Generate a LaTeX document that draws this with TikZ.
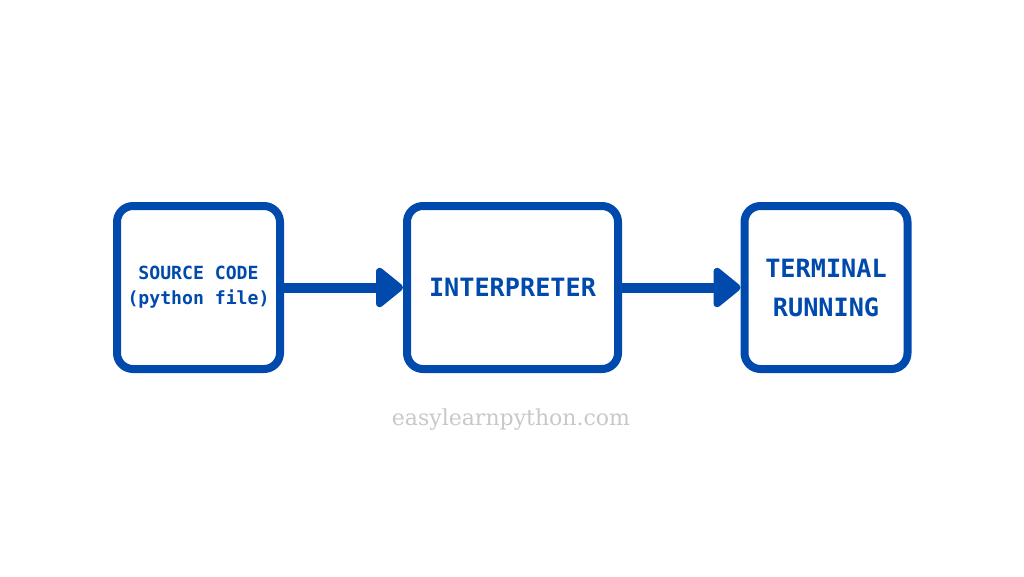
\documentclass[tikz,border=0pt]{standalone}
\usepackage{xcolor}
\usepackage{fontspec}
\usepackage{tikz}
\usetikzlibrary{arrows.meta, positioning}
\setmonofont{DejaVu Sans Mono}
\newfontfamily\sitefont{DejaVu Serif}
\definecolor{myblue}{RGB}{0,74,173}
\definecolor{mygray}{RGB}{200,200,200}
\tikzset{
  block/.style={rectangle, draw=myblue, fill=white, line width=6pt,
    minimum width=122.25pt, minimum height=122.25pt,
    rounded corners=12pt, align=center, text=myblue},
  arrow/.style={-{Triangle[length=22pt, width=34pt, round]},
    line width=7.5pt, color=myblue}
}

\begin{document}
\begin{tikzpicture}[x=0.75pt, y=-0.75pt]
  \useasboundingbox (0,0) rectangle (1024,576);

  % the three stages
  \node[block, font=\ttfamily\bfseries\fontsize{13.6}{18.75}\selectfont]
    (source) at (198.5,287.5) {SOURCE CODE\\(python file)};
  \node[block, minimum width=158.25pt,
    font=\ttfamily\bfseries\fontsize{18.9}{22}\selectfont]
    (interp) at (512.5,287.5) {INTERPRETER};
  \node[block, font=\ttfamily\bfseries\fontsize{18.9}{29.25}\selectfont]
    (terminal) at (826,287.5) {TERMINAL\\RUNNING};

  % flow
  \draw[arrow] (source.east) -- (interp.west);
  \draw[arrow] (interp.east) -- (terminal.west);

  % footer
  \node[text=mygray, font=\sitefont\fontsize{16.5}{18}\selectfont] (site)
    at (511,420) {easylearnpython.com};
\end{tikzpicture}
\end{document}
